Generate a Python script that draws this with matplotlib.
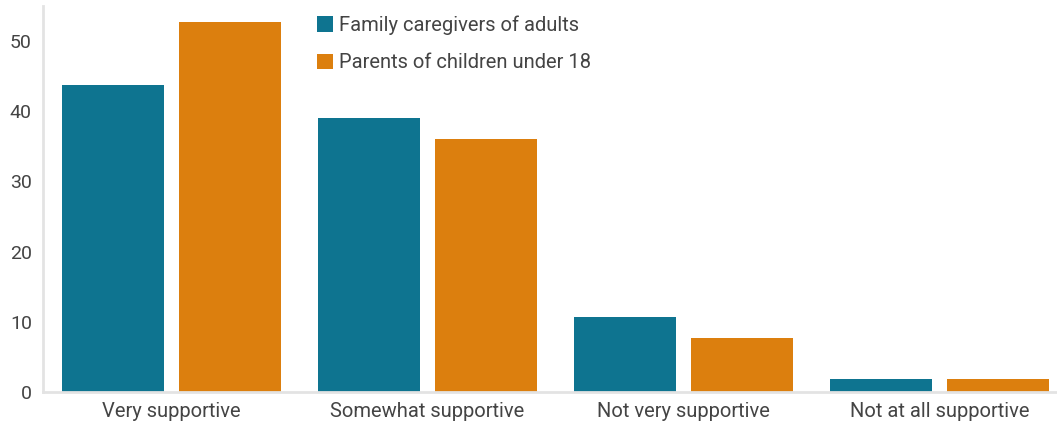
import matplotlib.pyplot as plt
import numpy as np

plt.rcParams['font.family'] = ['Roboto', 'DejaVu Sans']

categories = ['Very supportive', 'Somewhat supportive', 'Not very supportive', 'Not at all supportive']
family = [43.8, 39.0, 10.7, 1.8]
parents = [52.7, 36.1, 7.7, 1.8]
series_names = ['Family caregivers of adults', 'Parents of children under 18']

teal = '#0e7490'
orange = '#dc7f0e'
text_col = '#444444'
axis_col = '#e3e3e3'

fig = plt.figure(figsize=(10.57, 4.25), dpi=100)
ax = fig.add_axes([43 / 1057, 33 / 425, 1014 / 1057, 386 / 425])

x = np.arange(len(categories))
w = 0.398
off = 0.2285
ax.bar(x - off, family, width=w, color=teal, label=series_names[0])
ax.bar(x + off, parents, width=w, color=orange, label=series_names[1])

ax.set_xlim(-0.502, 3.46)
ax.set_ylim(0, 55)
ax.set_yticks([0, 10, 20, 30, 40, 50])
ax.set_xticks(x)
ax.set_xticklabels(categories, fontsize=14.5)

for side in ['top', 'right']:
    ax.spines[side].set_visible(False)
for side in ['left', 'bottom']:
    ax.spines[side].set_color(axis_col)
    ax.spines[side].set_linewidth(2)

ax.tick_params(axis='both', length=0, colors=text_col)
ax.tick_params(axis='y', pad=8, labelsize=14)
ax.tick_params(axis='x', pad=7)

ax.legend(frameon=False, loc='upper left', bbox_to_anchor=(0.252, 1.022),
          fontsize=14.5, handlelength=0.8, handleheight=0.8,
          handletextpad=0.3, labelspacing=0.9, labelcolor=text_col)

fig.savefig('out.png', dpi=100)
